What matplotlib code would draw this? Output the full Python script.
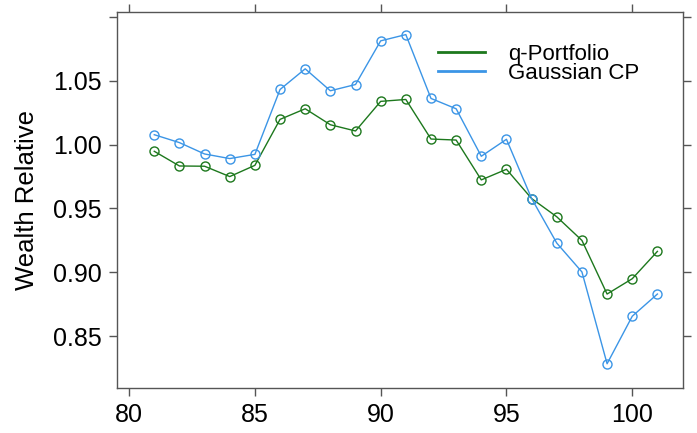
import matplotlib
matplotlib.use('Agg')
import matplotlib.pyplot as plt

plt.rcParams['font.family'] = ['Liberation Sans', 'DejaVu Sans']

# data
periods = list(range(81, 102))
q_portfolio = [0.9948, 0.9833, 0.9831, 0.9750, 0.9838, 1.0198, 1.0281, 1.0156,
               1.0107, 1.0339, 1.0354, 1.0044, 1.0036, 0.9724, 0.9807, 0.9578,
               0.9435, 0.9250, 0.8830, 0.8950, 0.9164]
gaussian_cp = [1.0078, 1.0016, 0.9927, 0.9891, 0.9924, 1.0432, 1.0594, 1.0422,
               1.0471, 1.0813, 1.0862, 1.0362, 1.0281, 0.9909, 1.0042, 0.9578,
               0.9229, 0.9003, 0.8284, 0.8656, 0.8830]
xticks = [80, 85, 90, 95, 100]
yticks = [0.85, 0.90, 0.95, 1.00, 1.05, 1.10]
ytick_labels = ['0.85', '0.90', '0.95', '1.00', '1.05', '']

green = '#1d781d'
blue = '#3b95e6'

fig = plt.figure(figsize=(6.97, 4.33), dpi=100)
ax = fig.add_axes([0.1679, 0.1039, 0.8121, 0.8684])

ax.plot(periods, q_portfolio, color=green, lw=1.0, marker='o', ms=6.5,
        mfc='none', mec=green, mew=1.0, label='q-Portfolio')
ax.plot(periods, gaussian_cp, color=blue, lw=1.0, marker='o', ms=6.5,
        mfc='none', mec=blue, mew=1.0, label='Gaussian CP')

ax.set_xlim(79.52, 102.02)
ax.set_ylim(0.8094, 1.1039)
ax.set_xticks(xticks)
ax.set_yticks(yticks)
ax.set_yticklabels(ytick_labels)

frame = '#555555'
for s in ax.spines.values():
    s.set_color(frame)
    s.set_linewidth(1.0)
ax.tick_params(direction='out', length=6, width=1.0, color=frame,
               labelsize=18, pad=5, top=True, right=True)

ax.set_ylabel('Wealth Relative', fontsize=18.5, labelpad=10)

leg = ax.legend(loc='upper left', bbox_to_anchor=(0.532, 0.968), frameon=False,
                fontsize=16, handlelength=2.1, handletextpad=1.05,
                labelspacing=-0.1)
for line in leg.get_lines():
    line.set_marker('')
    line.set_linewidth(2.0)

fig.savefig('out.png', dpi=100)
